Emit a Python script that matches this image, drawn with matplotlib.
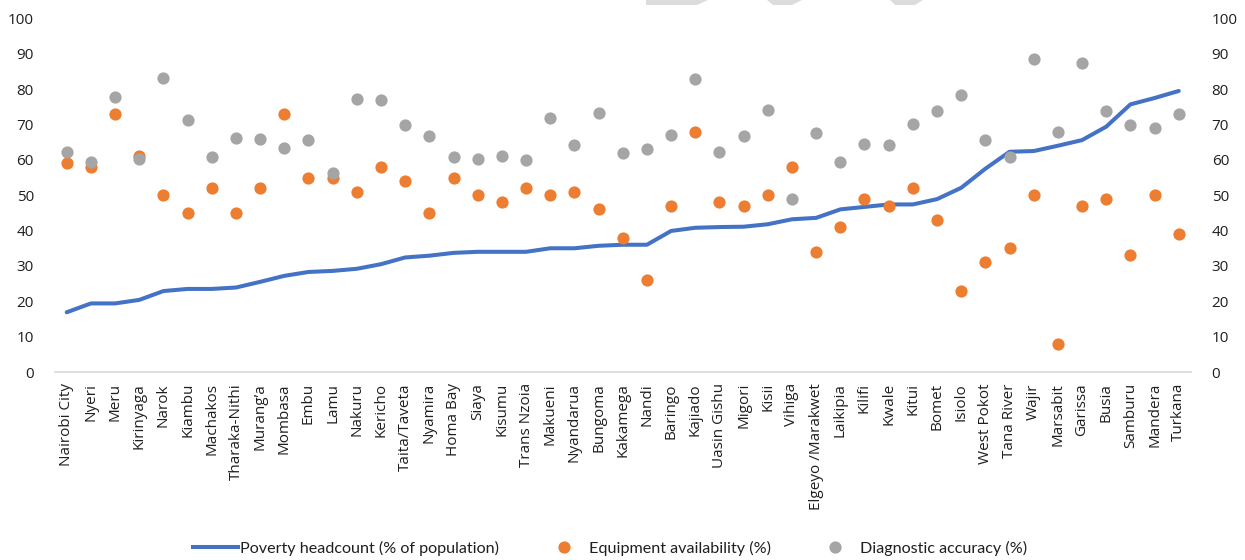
import matplotlib.pyplot as plt
import numpy as np
from matplotlib.lines import Line2D
from matplotlib.patches import Polygon

# County data, sorted by poverty headcount
counties = ['Nairobi City', 'Nyeri', 'Meru', 'Kirinyaga', 'Narok', 'Kiambu', 'Machakos',
            'Tharaka-Nithi', 'Murang\u2019a', 'Mombasa', 'Embu', 'Lamu', 'Nakuru', 'Kericho',
            'Taita/Taveta', 'Nyamira', 'Homa Bay', 'Siaya', 'Kisumu', 'Trans Nzoia', 'Makueni',
            'Nyandarua', 'Bungoma', 'Kakamega', 'Nandi', 'Baringo', 'Kajiado', 'Uasin Gishu',
            'Migori', 'Kisii', 'Vihiga', 'Elgeyo /Marakwet', 'Laikipia', 'Kilifi', 'Kwale',
            'Kitui', 'Bomet', 'Isiolo', 'West Pokot', 'Tana River', 'Wajir', 'Marsabit',
            'Garissa', 'Busia', 'Samburu', 'Mandera', 'Turkana']

poverty = [16.9, 19.4, 19.4, 20.4, 22.9, 23.5, 23.5, 23.9, 25.5, 27.2, 28.3, 28.6, 29.2, 30.5,
           32.4, 32.9, 33.7, 34.0, 34.0, 34.0, 35.0, 35.0, 35.7, 36.0, 36.0, 39.9, 40.8, 41.0,
           41.1, 41.8, 43.2, 43.6, 46.0, 46.7, 47.4, 47.4, 48.9, 52.1, 57.5, 62.3, 62.5, 64.0,
           65.6, 69.4, 75.7, 77.5, 79.5]

equipment = [59, 58, 73, 61, 50, 45, 52, 45, 52, 73, 55, 55, 51, 58, 54, 45, 55, 50, 48, 52,
             50, 51, 46, 38, 26, 47, 68, 48, 47, 50, 58, 34, 41, 49, 47, 52, 43, 23, 31, 35,
             50, 8, 47, 49, 33, 50, 39]

accuracy = [62.1, 59.3, 77.9, 60.2, 83.1, 71.3, 60.7, 66.2, 65.8, 63.3, 65.6, 56.2, 77.3, 76.8,
            69.9, 66.8, 60.7, 60.2, 61.0, 59.9, 71.9, 64.1, 73.3, 61.9, 63.0, 67.0, 82.8, 62.1,
            66.8, 74.2, 49.0, 67.6, 59.5, 64.5, 64.2, 70.2, 73.9, 78.4, 65.6, 60.7, 88.5, 67.9,
            87.3, 73.9, 69.9, 69.1, 73.0]

c_blue = '#4472C4'
c_orange = '#ED7D31'
c_gray = '#A5A5A5'
txt = '#1F1F1F'

fig = plt.figure(figsize=(12.45, 5.6), dpi=100)
ax = fig.add_axes([0.0439, 0.3357, 0.9126, 0.6313])

x = np.arange(len(counties))
ax.plot(x, poverty, color=c_blue, lw=2.9, solid_capstyle='round', zorder=2)
ax.plot(x, equipment, 'o', color=c_orange, ms=8.8, mec='none', zorder=3)
ax.plot(x, accuracy, 'o', color=c_gray, ms=8.8, mec='none', zorder=4)

ax.set_xlim(-0.5, len(counties) - 0.5)
ax.set_ylim(0, 100)
ax.set_yticks(np.arange(0, 101, 10))
ax.set_xticks(x)
ax.set_xticklabels(counties, rotation=90, fontsize=11, family='Open Sans', color=txt)
ax.tick_params(axis='x', length=0, pad=8)
ax.tick_params(axis='y', length=0, pad=15, labelsize=11, labelcolor=txt,
               right=True, labelright=True)
for lbl in ax.get_yticklabels():
    lbl.set_family('Open Sans')

for s in ['top', 'left', 'right']:
    ax.spines[s].set_visible(False)
ax.spines['bottom'].set_color('#D9D9D9')
ax.spines['bottom'].set_linewidth(1.2)

handles = [
    Line2D([], [], color=c_blue, lw=2.9),
    Line2D([], [], ls='none', marker='o', color=c_orange, ms=8.8, mec='none'),
    Line2D([], [], ls='none', marker='o', color=c_gray, ms=8.8, mec='none'),
]
labels = ['Poverty headcount (% of population)', 'Equipment availability (%)',
          'Diagnostic accuracy (%)']
fig.legend(handles, labels, loc='center', bbox_to_anchor=(0.49, 0.021), ncol=3,
           frameon=False, handlelength=2.8, handletextpad=0.15, columnspacing=2.6,
           prop={'family': 'Lato', 'size': 11.6}, labelcolor=txt)

# light watermark strips along the top edge
W, H = 1245.0, 560.0
strips = [
    [(646, 0), (708, 0), (697, 5), (646, 5)],
    [(767, 0), (802, 0), (792, 5), (773, 5)],
    [(890, 0), (923, 0), (915, 5), (895, 5)],
]
for pts in strips:
    fig.add_artist(Polygon([(px / W, 1 - py / H) for px, py in pts], closed=True,
                           transform=fig.transFigure, facecolor='#DCDCDC', edgecolor='none'))

fig.savefig('out.png', dpi=100, facecolor='white')
